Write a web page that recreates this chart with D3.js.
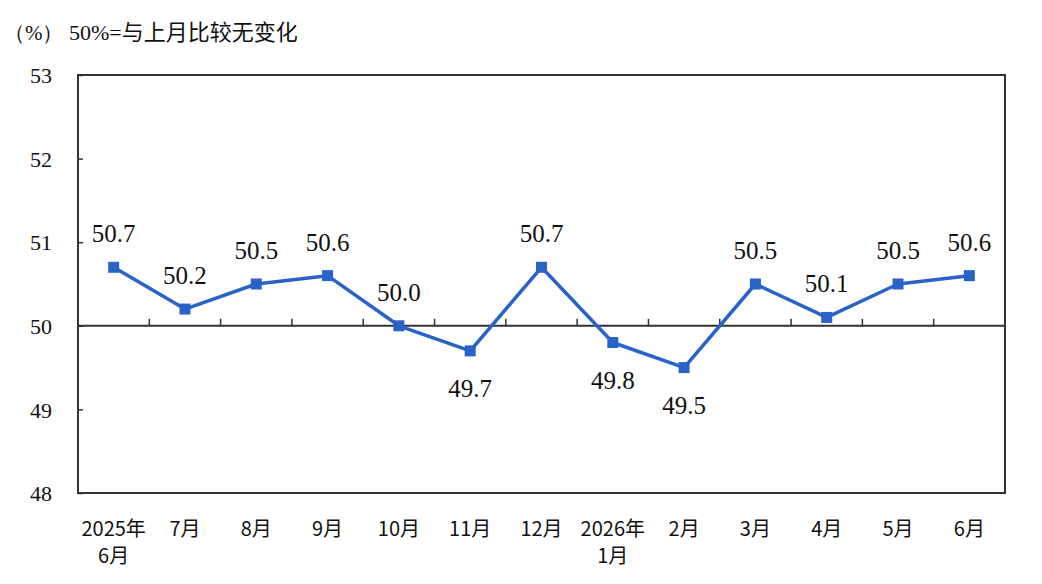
<!DOCTYPE html>
<html>
<head>
<meta charset="utf-8">
<script src="https://cdn.jsdelivr.net/npm/d3@7"></script>
<style>
  body { margin: 0; background: #fff; }
  svg { display: block; }
</style>
</head>
<body>
<div id="chart"></div>
<script>
// Month-on-month index, 50% = no change

const months = ["2025年\n6月", "7月", "8月", "9月", "10月", "11月", "12月",
                "2026年\n1月", "2月", "3月", "4月", "5月", "6月"];
const values = [50.7, 50.2, 50.5, 50.6, 50.0, 49.7, 50.7, 49.8, 49.5, 50.5, 50.1, 50.5, 50.6];
const yTicks = [48, 49, 50, 51, 52, 53];
const baseline = 50;
const titleParts = ["（%）", " 50%=", "与上月比较无变化"];

function drawChart() {
    const W = 1042, H = 584;
    const margin = {top: 75, right: 37, bottom: 91, left: 78},
          width = W - margin.left - margin.right,
          height = H - margin.top - margin.bottom;

    const lineColor = "#2a63c8";
    const axisColor = "#333333";
    const serif = "'Liberation Serif', 'Times New Roman', serif";
    const cjk = "'Noto Sans CJK SC', 'Noto Sans', sans-serif";

    d3.select("#chart").html("");

    const root = d3.select("#chart")
        .append("svg")
        .attr("width", W)
        .attr("height", H);

    // Title / unit note
    const title = root.append("text")
        .attr("x", 4)
        .attr("y", 40)
        .attr("font-size", 21)
        .attr("fill", "#111");
    title.append("tspan").attr("font-family", serif).text(titleParts[0]);
    title.append("tspan").attr("font-family", serif).attr("font-size", 22).text(titleParts[1]);
    title.append("tspan").attr("font-family", cjk).attr("font-size", 22).text(titleParts[2]);

    const svg = root.append("g")
        .attr("transform", `translate(${margin.left},${margin.top})`);

    // Scales
    const x = d3.scaleBand()
        .domain(months)
        .range([0, width])
        .padding(0);

    const y = d3.scaleLinear()
        .domain([d3.min(yTicks), d3.max(yTicks)])
        .range([height, 0]);

    // Plot frame
    svg.append("rect")
        .attr("x", 0)
        .attr("y", 0)
        .attr("width", width)
        .attr("height", height)
        .attr("fill", "none")
        .attr("stroke", axisColor)
        .attr("stroke-width", 2);

    // Y axis (ticks pointing inward)
    const yAxis = svg.append("g")
        .call(d3.axisRight(y).tickValues(yTicks).tickSize(5).tickFormat(d3.format("d")));
    yAxis.attr("font-family", null).attr("font-size", null);
    yAxis.select(".domain").remove();
    yAxis.selectAll(".tick line")
        .attr("stroke", axisColor)
        .attr("stroke-width", 1.5);
    yAxis.selectAll(".tick text")
        .attr("x", -26)
        .attr("dy", "0.35em")
        .attr("text-anchor", "end")
        .attr("font-family", serif)
        .attr("font-size", 22)
        .attr("fill", "#111");

    // Category axis along the 50 line, ticks at category boundaries pointing up
    const zeroY = y(baseline);
    svg.append("line")
        .attr("x1", 0)
        .attr("x2", width)
        .attr("y1", zeroY)
        .attr("y2", zeroY)
        .attr("stroke", axisColor)
        .attr("stroke-width", 2);

    svg.selectAll(".cat-tick")
        .data(months.slice(1))
        .enter()
        .append("line")
        .attr("class", "cat-tick")
        .attr("x1", d => x(d))
        .attr("x2", d => x(d))
        .attr("y1", zeroY)
        .attr("y2", zeroY - 7)
        .attr("stroke", axisColor)
        .attr("stroke-width", 1.5);

    // Category labels below the plot
    const labels = svg.selectAll(".cat-label")
        .data(months)
        .enter()
        .append("text")
        .attr("class", "cat-label")
        .attr("x", d => x(d) + x.bandwidth() / 2)
        .attr("y", height + 43)
        .attr("text-anchor", "middle")
        .attr("font-family", cjk)
        .attr("font-size", 20)
        .attr("fill", "#111");

    labels.selectAll("tspan")
        .data(d => d.split("\n").map(t => ({t, cx: x(d) + x.bandwidth() / 2})))
        .enter()
        .append("tspan")
        .attr("x", s => s.cx)
        .attr("dy", (s, i) => i === 0 ? 0 : 27)
        .text(s => s.t);

    // Line
    const points = months.map((m, i) => ({month: m, value: values[i]}));

    const line = d3.line()
        .x(d => x(d.month) + x.bandwidth() / 2)
        .y(d => y(d.value));

    svg.append("path")
        .datum(points)
        .attr("d", line)
        .attr("fill", "none")
        .attr("stroke", lineColor)
        .attr("stroke-width", 3.5)
        .attr("stroke-linejoin", "round");

    // Square markers
    const s = 11;
    svg.selectAll(".marker")
        .data(points)
        .enter()
        .append("rect")
        .attr("class", "marker")
        .attr("x", d => x(d.month) + x.bandwidth() / 2 - s / 2)
        .attr("y", d => y(d.value) - s / 2)
        .attr("width", s)
        .attr("height", s)
        .attr("fill", lineColor);

    // Value labels: above when >= 50, below otherwise
    svg.selectAll(".value-label")
        .data(points)
        .enter()
        .append("text")
        .attr("class", "value-label")
        .attr("x", d => x(d.month) + x.bandwidth() / 2)
        .attr("y", d => d.value >= baseline ? y(d.value) - 25 : y(d.value) + 46)
        .attr("text-anchor", "middle")
        .attr("font-family", serif)
        .attr("font-size", 25)
        .attr("fill", "#111")
        .text(d => d3.format(".1f")(d.value));
}

document.addEventListener('DOMContentLoaded', drawChart);
</script>
</body>
</html>
